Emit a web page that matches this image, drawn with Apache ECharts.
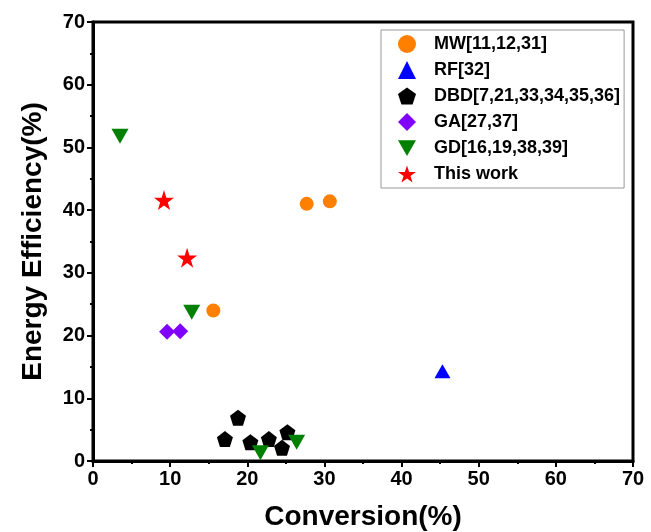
<!DOCTYPE html>
<html>
<head>
<meta charset="utf-8">
<script src="https://cdn.jsdelivr.net/npm/echarts@6/dist/echarts.min.js"></script>
<style>
  html, body { margin: 0; padding: 0; background: #fff; }
  #chart { width: 651px; height: 532px; }
</style>
</head>
<body>
<div id="chart"></div>
<script>
// data: [conversion %, energy efficiency %]
const seriesNames = ['MW[11,12,31]', 'RF[32]', 'DBD[7,21,33,34,35,36]', 'GA[27,37]', 'GD[16,19,38,39]', 'This work']
const mwData = [[15.6, 24.0], [27.7, 41.0], [30.7, 41.4]]
const rfData = [[45.3, 14.3]]
const dbdData = [[17.1, 3.5], [18.8, 6.9], [20.4, 3.0], [22.8, 3.5], [25.2, 4.6], [24.5, 2.1]]
const gaData = [[9.6, 20.6], [11.3, 20.7]]
const gdData = [[3.5, 51.8], [12.8, 23.7], [21.7, 1.3], [26.4, 3.0]]
const thisWork = [[9.2, 41.6], [12.2, 32.4]]

const font = 'Arial, "Liberation Sans", sans-serif'
const pentagon = 'path://M0,-1 L0.951,-0.309 L0.588,0.809 L-0.588,0.809 L-0.951,-0.309 Z'
const downTri = 'path://M0,0 L2,0 L1,1.75 Z'
const star = 'path://M0,-1 L0.2245,-0.309 L0.951,-0.309 L0.363,0.118 L0.588,0.809 L0,0.382 L-0.588,0.809 L-0.363,0.118 L-0.951,-0.309 L-0.2245,-0.309 Z'

const chart = echarts.init(document.getElementById('chart'))

const axisCommon = {
  type: 'value',
  min: 0,
  max: 70,
  interval: 10,
  axisLine: { lineStyle: { color: '#000', width: 3 } },
  axisTick: { length: 6, lineStyle: { color: '#000', width: 2 } },
  minorTick: { show: true, splitNumber: 2, length: 3, lineStyle: { color: '#000', width: 2 } },
  splitLine: { show: false },
  axisLabel: { color: '#000', fontSize: 20, fontWeight: 'bold', fontFamily: font, margin: 8 },
  nameLocation: 'middle',
  nameTextStyle: { color: '#000', fontSize: 28, fontWeight: 'bold', fontFamily: font }
}

const option = {
  animation: false,
  grid: {
    left: 93, right: 18, top: 22, bottom: 71,
    outerBoundsMode: 'none',
    show: true, borderColor: '#000', borderWidth: 3
  },
  xAxis: Object.assign({}, axisCommon, { name: 'Conversion(%)', nameGap: 42 }),
  yAxis: Object.assign({}, axisCommon, { name: 'Energy Efficiency(%)', nameGap: 46 }),
  legend: {
    orient: 'vertical',
    left: 381,
    top: 30,
    padding: [5, 4, 5, 17],
    itemWidth: 18,
    itemHeight: 18,
    itemGap: 8,
    borderColor: '#999',
    borderWidth: 1,
    backgroundColor: '#fff',
    textStyle: { color: '#000', fontSize: 18, fontWeight: 'bold', fontFamily: font, padding: [0, 0, 0, 13] },
    data: seriesNames
  },
  series: [
    { name: seriesNames[0], type: 'scatter', data: mwData, symbol: 'circle', symbolSize: 14, itemStyle: { color: '#ff8000', opacity: 1 } },
    { name: seriesNames[1], type: 'scatter', data: rfData, symbol: 'triangle', symbolSize: [16, 14], itemStyle: { color: '#0000ff', opacity: 1 } },
    { name: seriesNames[2], type: 'scatter', data: dbdData, symbol: pentagon, symbolSize: 16, itemStyle: { color: '#000', opacity: 1 } },
    { name: seriesNames[3], type: 'scatter', data: gaData, symbol: 'diamond', symbolSize: 16, itemStyle: { color: '#8000ff', opacity: 1 } },
    { name: seriesNames[4], type: 'scatter', data: gdData, symbol: downTri, symbolSize: [17, 15], itemStyle: { color: '#008000', opacity: 1 } },
    { name: seriesNames[5], type: 'scatter', data: thisWork, symbol: star, symbolSize: 20, itemStyle: { color: '#ff0000', opacity: 1 } }
  ]
}

chart.setOption(option)
</script>
</body>
</html>
